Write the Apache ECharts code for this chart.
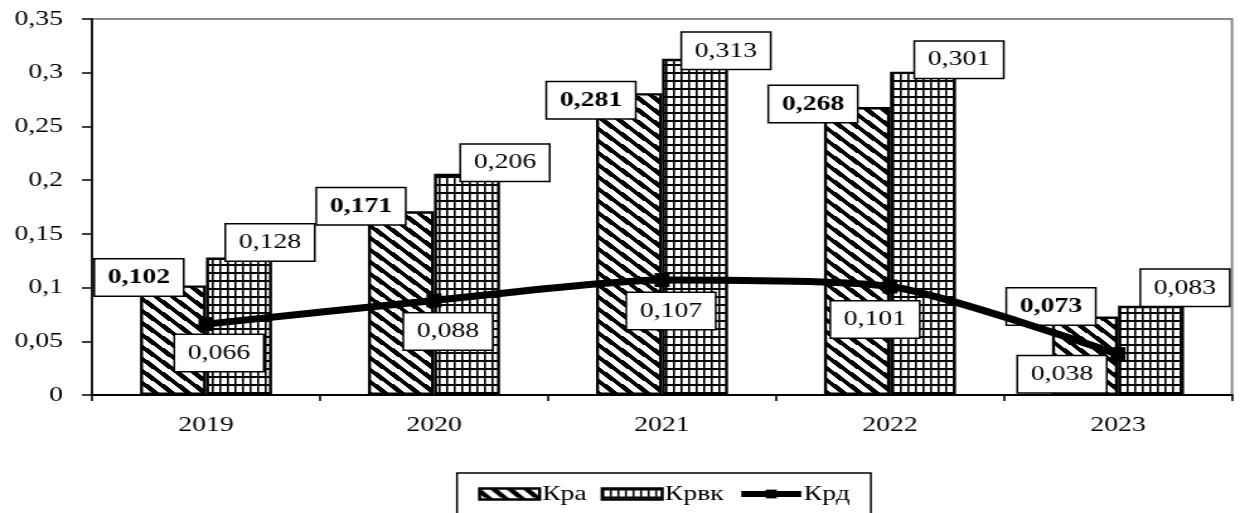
<!DOCTYPE html>
<html>
<head>
<meta charset="utf-8">
<script src="https://cdn.jsdelivr.net/npm/echarts@6/dist/echarts.min.js"></script>
<style>
  html, body { margin: 0; padding: 0; background: #fff; overflow: hidden; }
  /* the chart is laid out narrower and widened horizontally, giving the stretched serif look */
  #chart { width: 984px; height: 513px; transform: scaleX(1.260163); transform-origin: 0 0; }
</style>
</head>
<body>
<div id="chart"></div>
<script>
// ---- data ----
const years = ['2019', '2020', '2021', '2022', '2023'];
const kpa  = [0.102, 0.171, 0.281, 0.268, 0.073];   // Кра
const kpbk = [0.128, 0.206, 0.313, 0.301, 0.083];   // Крвк
const krd  = [0.066, 0.088, 0.107, 0.101, 0.038];   // Крд
const yTicks = { min: 0, max: 0.35, step: 0.05 };

// ---- label placement (screen px, relative to the bar top centre / the point) ----
const kpaShift  = [[-34, -8], [-40, -5], [-38, 7], [-44, -3], [-34, -10]];
const kpbkShift = [[31, -15], [38, -11], [31, -8], [36, -12], [34, -18]];
const krdShift  = [[13, 29], [14, 31], [9, 31], [-15, 33], [-56, 20]];

const W = 984;
const S = 1240 / W;            // horizontal stretch applied by CSS
const ux = px => px / S;       // screen px -> layout px (horizontal)

// hatch fills
function stripeFill() {
  const w = 13, h = 12, c = document.createElement('canvas');
  c.width = w; c.height = h;
  const ctx = c.getContext('2d');
  const img = ctx.createImageData(w, h);
  for (let y = 0; y < h; y++) {
    for (let x = 0; x < w; x++) {
      let v = ((y + 0.5) * w - (x + 0.5) * h) % (w * h);
      if (v < 0) v += w * h;
      const dark = v < 5.3 * w;
      const k = (y * w + x) * 4;
      const g = dark ? 0 : 255;
      img.data[k] = g; img.data[k + 1] = g; img.data[k + 2] = g; img.data[k + 3] = 255;
    }
  }
  ctx.putImageData(img, 0, 0);
  return { image: c, repeat: 'repeat' };
}
function gridFill() {
  const w = 6, h = 8, c = document.createElement('canvas');
  c.width = w; c.height = h;
  const ctx = c.getContext('2d');
  ctx.fillStyle = '#fff'; ctx.fillRect(0, 0, w, h);
  ctx.fillStyle = '#000';
  ctx.fillRect(0, 0, 1.6, h);
  ctx.fillRect(0, 0, w, 2);
  return { image: c, repeat: 'repeat' };
}

const FONT = 'Liberation Serif';
const fmt3 = v => v.toFixed(3).replace('.', ',');
const boxLabel = {
  show: true,
  fontFamily: FONT,
  fontSize: 22,
  lineHeight: 25,
  color: '#000',
  backgroundColor: '#fff',
  borderColor: '#000',
  borderWidth: 1.5,
  padding: [6, 10, 5, 10],
  align: 'center',
  verticalAlign: 'middle',
  formatter: p => fmt3(p.value)
};

const barW = ux(66);
const barData = (vals, shifts) => vals.map((v, i) => ({
  value: v,
  label: { position: [barW / 2 + ux(shifts[i][0]), shifts[i][1]] }
}));

const chart = echarts.init(document.getElementById('chart'), null, { renderer: 'canvas' });
chart.setOption({
  animation: false,
  backgroundColor: '#fff',
  grid: {
    left: ux(92), right: W - ux(1232), top: 19, bottom: 118,
    show: true, borderColor: '#8c8c8c', borderWidth: 2,
    containLabel: false, outerBoundsMode: 'none'
  },
  legend: {
    left: ux(457), top: 473,
    padding: [10, ux(21), 40, ux(21)],
    borderColor: '#000', borderWidth: 1.5,
    itemWidth: ux(60), itemHeight: 11, itemGap: 11,
    selectedMode: false,
    textStyle: { fontFamily: FONT, fontSize: 22, color: '#000', padding: [0, 0, 0, -3] },
    data: [
      { name: 'Кра', icon: 'rect', itemStyle: { borderColor: '#000', borderWidth: 2.5 } },
      { name: 'Крвк', icon: 'rect', itemStyle: { borderColor: '#000', borderWidth: 2.5 } },
      { name: 'Крд', lineStyle: { width: 6, color: '#000' }, itemStyle: { color: '#000' } }
    ]
  },
  xAxis: {
    type: 'category',
    data: years,
    boundaryGap: true,
    axisLine: { lineStyle: { color: '#000', width: 2 } },
    axisTick: { show: true, length: 6, lineStyle: { color: '#000', width: 1.6 } },
    axisLabel: { fontFamily: FONT, fontSize: 22, color: '#000', margin: 19 },
    splitLine: { show: false }
  },
  yAxis: {
    type: 'value',
    min: yTicks.min, max: yTicks.max, interval: yTicks.step,
    axisLine: { show: true, lineStyle: { color: '#000', width: 1.6 } },
    axisTick: { show: true, length: 8, lineStyle: { color: '#000', width: 1.5 } },
    axisLabel: {
      fontFamily: FONT, fontSize: 22, color: '#000', margin: ux(29),
      formatter: v => String(parseFloat(v.toFixed(2))).replace('.', ',')
    },
    splitLine: { show: false }
  },
  series: [
    {
      name: 'Кра', type: 'bar', barWidth: barW, barGap: '0%',
      data: barData(kpa, kpaShift),
      itemStyle: { color: stripeFill(), borderColor: '#000', borderWidth: 2.4 },
      label: Object.assign({}, boxLabel, { fontWeight: 'bold' }),
      z: 2
    },
    {
      name: 'Крвк', type: 'bar', barWidth: barW, barGap: '0%',
      data: barData(kpbk, kpbkShift),
      itemStyle: { color: gridFill(), borderColor: '#000', borderWidth: 2.4 },
      label: Object.assign({}, boxLabel),
      z: 2
    },
    {
      name: 'Крд', type: 'line', smooth: 0.22,
      symbol: 'rect', symbolSize: [ux(15), 14],
      lineStyle: { color: '#000', width: 7 },
      itemStyle: { color: '#000' },
      data: krd.map((v, i) => ({ value: v, label: { offset: [ux(krdShift[i][0]), krdShift[i][1]] } })),
      label: Object.assign({}, boxLabel, { position: 'inside' }),
      z: 5
    }
  ]
});
</script>
</body>
</html>
